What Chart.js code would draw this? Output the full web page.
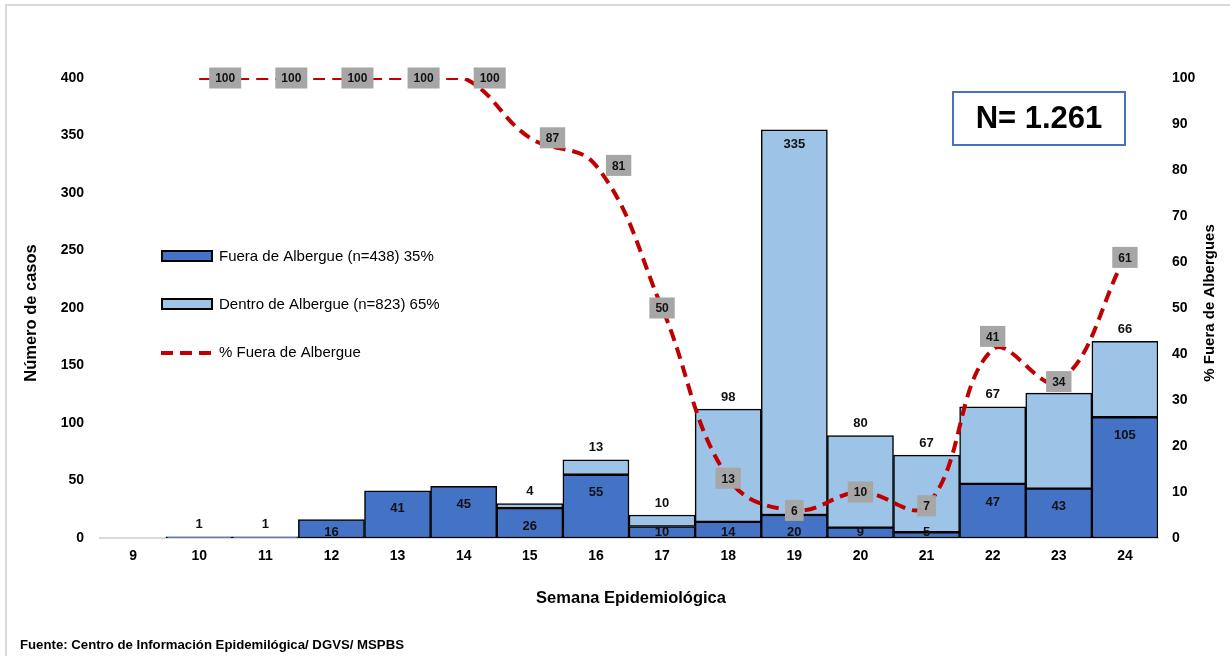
<!DOCTYPE html>
<html>
<head>
<meta charset="utf-8">
<script src="https://cdn.jsdelivr.net/npm/chart.js@4.4.1/dist/chart.umd.min.js"></script>
<style>
  html, body { margin: 0; padding: 0; background: #fff; }
  #wrap { position: relative; width: 1230px; height: 656px; }
  #frame { position: absolute; left: 5px; top: 4px; width: 1240px; height: 680px;
           border-left: 2px solid #d9d9d9; border-top: 2px solid #d9d9d9; }
  canvas { position: absolute; left: 0; top: 0; }
</style>
</head>
<body>
<div id="wrap">
  <div id="frame"></div>
  <canvas id="chart" width="1230" height="656"></canvas>
</div>
<script>
const weeks = ["9", "10", "11", "12", "13", "14", "15", "16", "17", "18", "19", "20", "21", "22", "23", "24"];
const fuera = [0, 1, 1, 16, 41, 45, 26, 55, 10, 14, 20, 9, 5, 47, 43, 105];
const dentro = [0, 0, 0, 0, 0, 0, 4, 13, 10, 98, 335, 80, 67, 67, 83, 66];
const pctFuera = [null, 100, 100, 100, 100, 100, 87, 81, 50, 13, 6, 10, 7, 41, 34, 61];

const FONT = '"Liberation Sans Narrow", "Liberation Sans", Arial, sans-serif';
const DARK = "#4472C4";
const LIGHT = "#9DC3E6";
const RED = "#C00000";

// bar labels, percentage labels, legend, titles and the N box
const overlay = {
  id: "overlay",
  afterDatasetsDraw(chart) {
    const ctx = chart.ctx;
    const area = chart.chartArea;
    const mF = chart.getDatasetMeta(0);
    const mD = chart.getDatasetMeta(1);
    const mP = chart.getDatasetMeta(2);
    ctx.save();
    ctx.textAlign = "center";
    ctx.textBaseline = "middle";
    ctx.fillStyle = "#111";
    ctx.font = "bold 13px " + FONT;

    fuera.forEach((v, i) => {
      if (!v) return;
      const bar = mF.data[i];
      let y;
      if (v < 3) y = bar.y - 12;
      else y = Math.min(bar.y + 18, area.bottom - 6);
      ctx.fillText(v, bar.x, y);
    });
    dentro.forEach((v, i) => {
      if (!v) return;
      const bar = mD.data[i];
      let y = bar.y - 12;
      if (y < area.top + 60) y = bar.y + 15; // no room above: put it inside
      ctx.fillText(v, bar.x, y);
    });

    // line labels in grey boxes
    ctx.font = "bold 12px " + FONT;
    pctFuera.forEach((v, i) => {
      if (v === null) return;
      const pt = mP.data[i];
      const w = ctx.measureText(String(v)).width + 12;
      const h = 21;
      let cx = pt.x;
      let cy = pt.y;
      if (v >= 80) cx = pt.x + w / 2 + 10;
      if (i === 13) cy = pt.y - 13;
      ctx.fillStyle = "#A6A6A6";
      ctx.fillRect(cx - w / 2, cy - h / 2, w, h);
      ctx.fillStyle = "#111";
      ctx.fillText(v, cx, cy + 1);
    });

    // legend
    ctx.textAlign = "left";
    ctx.font = "15px " + FONT;
    ctx.lineWidth = 2;
    ctx.strokeStyle = "#000";
    const items = [
      { label: "Fuera de Albergue (n=438) 35%", color: DARK, y: 256 },
      { label: "Dentro de Albergue (n=823) 65%", color: LIGHT, y: 304 }
    ];
    items.forEach(it => {
      ctx.fillStyle = it.color;
      ctx.fillRect(162, it.y - 5, 50, 10);
      ctx.strokeRect(162, it.y - 5, 50, 10);
      ctx.fillStyle = "#000";
      ctx.fillText(it.label, 219, it.y + 1);
    });
    ctx.strokeStyle = RED;
    ctx.lineWidth = 4;
    ctx.setLineDash([12, 7]);
    ctx.beginPath();
    ctx.moveTo(161, 353);
    ctx.lineTo(213, 353);
    ctx.stroke();
    ctx.setLineDash([]);
    ctx.fillStyle = "#000";
    ctx.fillText("% Fuera de Albergue", 219, 353);

    // N box
    ctx.strokeStyle = "#4472C4";
    ctx.lineWidth = 2;
    ctx.strokeRect(953, 92, 172, 53);
    ctx.textAlign = "center";
    ctx.font = "bold 31px " + FONT;
    ctx.fillStyle = "#000";
    ctx.fillText("N= 1.261", 1039, 119);

    // axis titles
    ctx.font = "bold 16.5px " + FONT;
    ctx.fillText("Semana Epidemiológica", 631, 598);
    ctx.save();
    ctx.translate(31, 313);
    ctx.rotate(-Math.PI / 2);
    ctx.fillText("Número de casos", 0, 0);
    ctx.restore();
    ctx.font = "bold 15px " + FONT;
    ctx.save();
    ctx.translate(1210, 303);
    ctx.rotate(-Math.PI / 2);
    ctx.fillText("% Fuera de Albergues", 0, 0);
    ctx.restore();

    ctx.textAlign = "left";
    ctx.font = "bold 13.2px " + FONT;
    ctx.fillText("Fuente: Centro de Información Epidemilógica/ DGVS/ MSPBS", 20, 645);
    ctx.restore();
  }
};

new Chart(document.getElementById("chart"), {
  type: "bar",
  data: {
    labels: weeks,
    datasets: [
      {
        label: "Fuera de Albergue (n=438) 35%",
        data: fuera,
        backgroundColor: DARK,
        borderColor: "#000",
        borderWidth: 1.5,
        borderSkipped: false,
        stack: "s",
        yAxisID: "y",
        order: 2
      },
      {
        label: "Dentro de Albergue (n=823) 65%",
        data: dentro,
        backgroundColor: LIGHT,
        borderColor: "#000",
        borderWidth: 1.5,
        borderSkipped: false,
        stack: "s",
        yAxisID: "y",
        order: 2
      },
      {
        type: "line",
        label: "% Fuera de Albergue",
        data: pctFuera,
        borderColor: RED,
        borderWidth: 4,
        borderDash: [12, 7],
        tension: 0.4,
        pointRadius: 0,
        fill: false,
        yAxisID: "y1",
        clip: 0,
        order: 1
      }
    ]
  },
  options: {
    responsive: false,
    animation: false,
    devicePixelRatio: 1,
    layout: { padding: { top: 78, left: 0, right: 0, bottom: 0 } },
    plugins: { legend: { display: false }, tooltip: { enabled: false } },
    datasets: { bar: { categoryPercentage: 1, barPercentage: 1 } },
    scales: {
      x: {
        stacked: true,
        grid: { display: false, drawTicks: false },
        border: { display: true, color: "#d9d9d9", width: 2 },
        ticks: { color: "#000", font: { family: FONT, size: 14, weight: "bold" }, padding: 10 },
        afterFit: s => { s.height = 118; }
      },
      y: {
        stacked: true,
        position: "left",
        min: 0,
        max: 400,
        grid: { display: false, drawTicks: false },
        border: { display: false },
        ticks: { stepSize: 50, color: "#000", font: { family: FONT, size: 14, weight: "bold" }, padding: 16 },
        afterFit: s => { s.width = 100; }
      },
      y1: {
        position: "right",
        min: 0,
        max: 100,
        grid: { display: false, drawTicks: false },
        border: { display: false },
        ticks: { stepSize: 10, color: "#000", font: { family: FONT, size: 14, weight: "bold" }, padding: 14 },
        afterFit: s => { s.width = 72; }
      }
    }
  },
  plugins: [overlay]
});
</script>
</body>
</html>
